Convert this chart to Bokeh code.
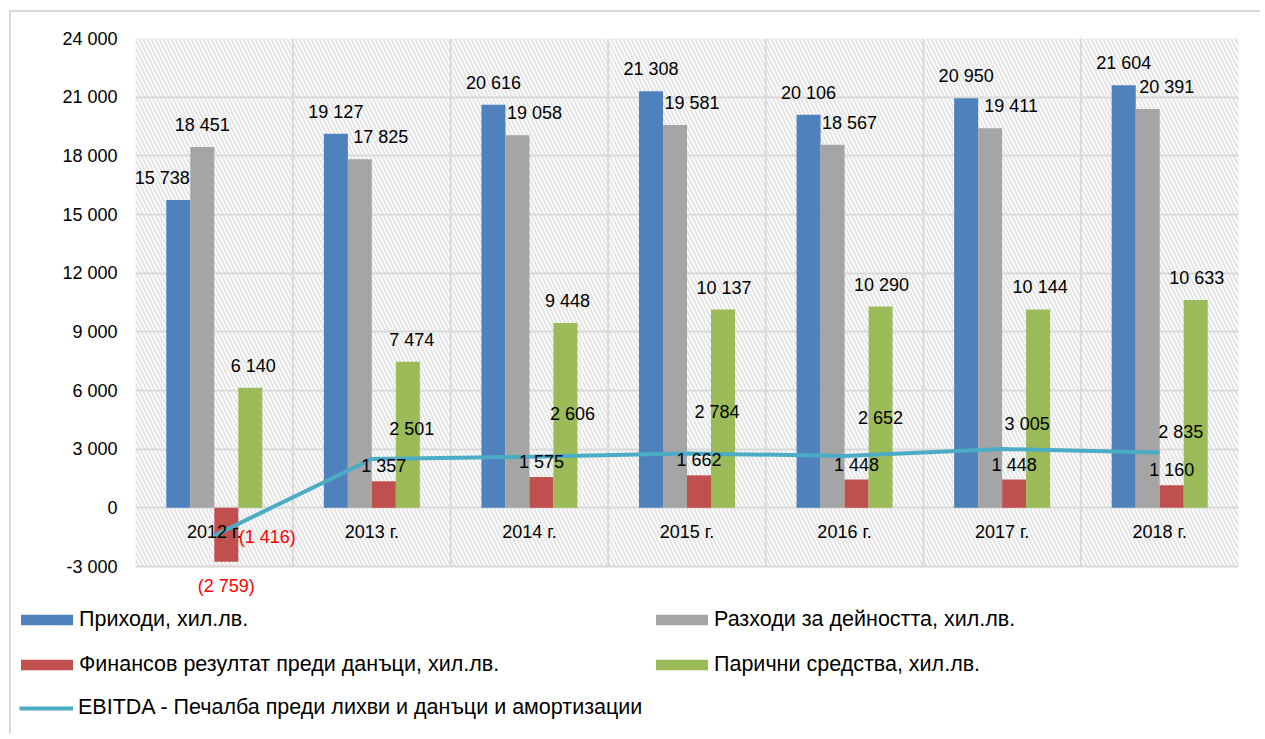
from bokeh.plotting import figure
from bokeh.models import (ColumnDataSource, Range1d, FixedTicker, Legend, LegendItem,
                          BoxAnnotation)
from bokeh.core.properties import value
from bokeh.embed import file_html
from bokeh.resources import INLINE

# ---------------- data ----------------
years = ["2012 г.", "2013 г.", "2014 г.", "2015 г.", "2016 г.", "2017 г.", "2018 г."]
revenue = [15738, 19127, 20616, 21308, 20106, 20950, 21604]
expenses = [18451, 17825, 19058, 19581, 18567, 19411, 20391]
profit = [-2759, 1357, 1575, 1662, 1448, 1448, 1160]
cash = [6140, 7474, 9448, 10137, 10290, 10144, 10633]
ebitda = [-1416, 2501, 2606, 2784, 2652, 3005, 2835]

names = ["Приходи, хил.лв.", "Разходи за дейността, хил.лв.",
         "Финансов резултат преди данъци, хил.лв.", "Парични средства, хил.лв."]
line_name = "EBITDA - Печалба преди лихви и данъци и амортизации"
y_ticks = list(range(-3000, 24001, 3000))

# ---------------- styles / layout ----------------
FONT = "Liberation Sans"
colors = ["#4F81BD", "#A5A5A5", "#C0504D", "#9BBB59"]
line_color = "#4BACC6"
grid_color = "#D9D9D9"
W = 0.1523
offsets = [-1.5 * W, -0.5 * W, 0.5 * W, 1.5 * W]
lab_dx = [[-16, 0, 0, 0, 0, 0, 0],
          [0, 21, 17, 17, 17, 21, 19],
          [0, 0, 0, 0, 0, 0, 0],
          [3, 4, 2, 1, 1, 2, 1]]
lab_dy_pos = [-22, -22, -15, -22]
lab_dy_neg = 24
line_dx = [53, 40, 43, 30, 36, 25, 21]
line_dy = [1, -30, -43, -41, -38, -25, -20]

OX, OY = 11, 12            # page position of the figures' top-left corner
FIG_W = 1251
PA_L, PA_R, PA_T, PA_B = 135, 1238, 38, 566   # plot area in page pixels
MAIN_BOTTOM = 600
LEG_H = 136
BORDER = f"2px solid {grid_color}"


def fmt(v):
    s = f"{abs(v):,}".replace(",", " ")
    return f"({s})" if v < 0 else s


def fmt_tick(v):
    s = f"{abs(v):,}".replace(",", " ")
    return ("-" + s) if v < 0 else s


idx = list(range(len(years)))

# y range extended below the plot area so that labels below it are visible
px_per_unit = (PA_B - PA_T) / (y_ticks[-1] - y_ticks[0])
y_start = y_ticks[0] - (MAIN_BOTTOM - PA_B) / px_per_unit

p = figure(width=FIG_W, height=MAIN_BOTTOM - OY, output_backend="svg", toolbar_location=None,
           x_range=Range1d(-0.5, len(years) - 0.5), y_range=Range1d(y_start, y_ticks[-1]),
           min_border_left=PA_L - OX, min_border_right=OX + FIG_W - PA_R,
           min_border_top=PA_T - OY, min_border_bottom=0,
           styles={"margin-left": "9px", "margin-top": "10px",
                   "border-left": BORDER, "border-top": BORDER})
p.background_fill_color = "white"
p.border_fill_color = "white"
p.outline_line_color = None

# hatched plot area with its border
p.add_layout(BoxAnnotation(left=-0.5, right=len(years) - 0.5, bottom=y_ticks[0], top=y_ticks[-1],
                           level="image", fill_alpha=0, line_color=grid_color, line_width=2,
                           hatch_pattern="\\", hatch_color="#E4E4E4",
                           hatch_scale=8, hatch_weight=2))

p.xaxis.visible = False
p.xgrid.visible = False
seps = [i + 0.5 for i in idx[:-1]]
p.segment(x0=seps, x1=seps, y0=[y_ticks[0]] * len(seps), y1=[y_ticks[-1]] * len(seps),
          line_color=grid_color, line_width=2, level="underlay")
p.ygrid.ticker = FixedTicker(ticks=y_ticks)
p.ygrid.grid_line_color = grid_color
p.ygrid.grid_line_width = 2

ax = p.yaxis[0]
ax.ticker = FixedTicker(ticks=y_ticks)
ax.major_label_overrides = {t: fmt_tick(t) for t in y_ticks}
ax.axis_line_color = None
ax.major_tick_line_color = None
ax.minor_tick_line_color = None
ax.major_tick_in = 0
ax.major_tick_out = 0
ax.major_label_standoff = 18
ax.major_label_text_font = FONT
ax.major_label_text_font_size = "18px"
ax.major_label_text_color = "black"

all_vals = [revenue, expenses, profit, cash]
for k, vals in enumerate(all_vals):
    xs = [i + offsets[k] for i in idx]
    p.vbar(x=xs, top=vals, bottom=0, width=W, fill_color=colors[k], line_color=None)

p.line(idx, ebitda, line_color=line_color, line_width=4)

# category labels
p.text(x=idx, y=[0] * len(idx), text=years, y_offset=24, text_align="center",
       text_baseline="middle", text_font=value(FONT), text_font_size="18px",
       text_color="black")

for k, vals in enumerate(all_vals):
    xs = [i + offsets[k] for i in idx]
    src = ColumnDataSource(dict(
        x=xs, y=vals, text=[fmt(v) for v in vals],
        xo=lab_dx[k], yo=[lab_dy_pos[k] if v >= 0 else lab_dy_neg for v in vals],
        c=["black" if v >= 0 else "#FF0000" for v in vals]))
    p.text(x="x", y="y", text="text", x_offset="xo", y_offset="yo", text_color="c",
           source=src, text_align="center", text_baseline="middle",
           text_font=value(FONT), text_font_size="18px")

src_l = ColumnDataSource(dict(
    x=idx, y=ebitda, text=[fmt(v) for v in ebitda], xo=line_dx, yo=line_dy,
    c=["black" if v >= 0 else "#FF0000" for v in ebitda]))
p.text(x="x", y="y", text="text", x_offset="xo", y_offset="yo", text_color="c",
       source=src_l, text_align="center", text_baseline="middle",
       text_font=value(FONT), text_font_size="18px")

# ---------------- legend figure (separate root, no frame alignment) ----------------
pl = figure(width=FIG_W, height=LEG_H, output_backend="svg", toolbar_location=None,
            x_range=Range1d(0, 1), y_range=Range1d(0, 1),
            x_axis_location=None, y_axis_location=None,
            min_border_left=0, min_border_right=0, min_border_top=0, min_border_bottom=0,
            styles={"margin-left": "9px", "border-left": BORDER})
pl.grid.visible = False
pl.outline_line_color = None
pl.background_fill_color = "white"
pl.border_fill_color = "white"

# swatch renderers for the legend (their single point lies outside the visible range)
leg_bars = [pl.vbar(x=[-5], top=[-5], width=0.1, fill_color=c, line_color=None) for c in colors]
leg_line = pl.line(x=[-5, -4], y=[-5, -5], line_color=line_color, line_width=4)

ITEM_H, SPACING = 24, 20
ROW_CY = [623, 667, 710]   # page y of the legend row centres


def make_legend(items, x_page, row0, gw, gh, standoff):
    n = len(items)
    h = n * ITEM_H + (n - 1) * SPACING
    top = ROW_CY[row0] - ITEM_H / 2 - MAIN_BOTTOM
    loc = (x_page - OX, LEG_H - (top + h))
    return Legend(items=items, location=loc, orientation="vertical",
                  glyph_width=gw, glyph_height=gh, label_height=ITEM_H,
                  label_standoff=standoff,
                  spacing=SPACING, padding=0, margin=0, border_line_color=None,
                  background_fill_alpha=0, label_text_font=FONT,
                  label_text_font_size="21.5px", label_text_color="black")


# bar swatches are drawn inset by 10% of the glyph box
leg1 = make_legend([LegendItem(label=names[0], renderers=[leg_bars[0]]),
                    LegendItem(label=names[2], renderers=[leg_bars[2]])], 14, 0, 65, 13, 0)
leg2 = make_legend([LegendItem(label=names[1], renderers=[leg_bars[1]]),
                    LegendItem(label=names[3], renderers=[leg_bars[3]])], 649, 0, 65, 13, 0)
leg3 = make_legend([LegendItem(label=line_name, renderers=[leg_line])], 19, 2, 54, 10, 5)
for lg in (leg1, leg2, leg3):
    pl.add_layout(lg)

open("out.html", "w").write(file_html([p, pl], INLINE))
